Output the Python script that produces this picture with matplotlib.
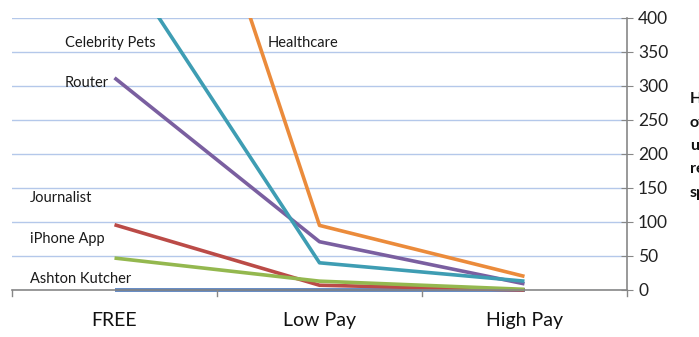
import matplotlib.pyplot as plt

# pay levels and hours per topic
pay_levels = ["FREE", "Low Pay", "High Pay"]
topics = ["Journalist", "iPhone App", "Ashton Kutcher", "Router", "Celebrity Pets", "Healthcare"]
journalist = [0, 0, 0]
iphone_app = [96, 7, 0]
ashton_kutcher = [47, 13, 1]
router = [312, 71, 9]
celebrity_pets = [500, 40, 13]
healthcare = [1000, 95, 20]
y_ticks = [0, 50, 100, 150, 200, 250, 300, 350, 400]
side_label = ["Hours", "of", "unpaid", "research", "spent"]

series = [journalist, iphone_app, ashton_kutcher, router, celebrity_pets, healthcare]
colors = ["#4472B8", "#BB4B47", "#94B84F", "#7A5FA0", "#3E9DB3", "#EB8B3B"]

# where each topic name sits (data coords)
label_pos = {
    "Celebrity Pets": (-0.242, 363),
    "Healthcare": (0.745, 363),
    "Router": (-0.242, 304),
    "Journalist": (-0.412, 135),
    "iPhone App": (-0.412, 75),
    "Ashton Kutcher": (-0.412, 16),
}

plt.rcParams['font.family'] = ['Lato', 'DejaVu Sans']

fig = plt.figure(figsize=(6.99, 3.37), dpi=100)
ax = fig.add_axes([12 / 699, 47 / 337, 615 / 699, 272 / 337])

x = range(len(pay_levels))
for name, vals, c in zip(topics, series, colors):
    ax.plot(x, vals, color=c, lw=2.6, solid_capstyle='butt',
            clip_on=max(vals) > 400)

for name, (lx, ly) in label_pos.items():
    ax.text(lx, ly, name, fontsize=10.5, color="#1a1a1a", ha='left', va='center')

ax.set_xlim(-0.5, 2.5)
ax.set_ylim(0, 400)

ax.yaxis.tick_right()
ax.set_yticks(y_ticks)
ax.set_yticklabels([str(v) for v in y_ticks], fontsize=12.5, color="#222222")
ax.tick_params(axis='y', length=8, direction='inout', color="#878787", pad=4)

ax.set_xticks(x)
ax.set_xticklabels(pay_levels, fontsize=14, color="#111111")
ax.tick_params(axis='x', length=0, pad=16)
for b in [-0.5, 0.5, 1.5, 2.5]:
    ax.plot([b, b], [0, -9], color="#878787", lw=1, clip_on=False)

ax.grid(axis='y', color="#B4C8EA", lw=1)
ax.set_axisbelow(True)
for s in ["top", "left"]:
    ax.spines[s].set_visible(False)
ax.spines["right"].set_color("#878787")
ax.spines["bottom"].set_color("#878787")
ax.spines["right"].set_linewidth(1.2)
ax.spines["bottom"].set_linewidth(1.2)

# axis title, runs off the right edge
fig.text(690 / 699, 1 - 146 / 337, "\n".join(side_label), fontsize=11.5, fontweight='bold',
         color="#111111", ha='left', va='center', linespacing=1.85)

fig.savefig("out.png", dpi=100)
